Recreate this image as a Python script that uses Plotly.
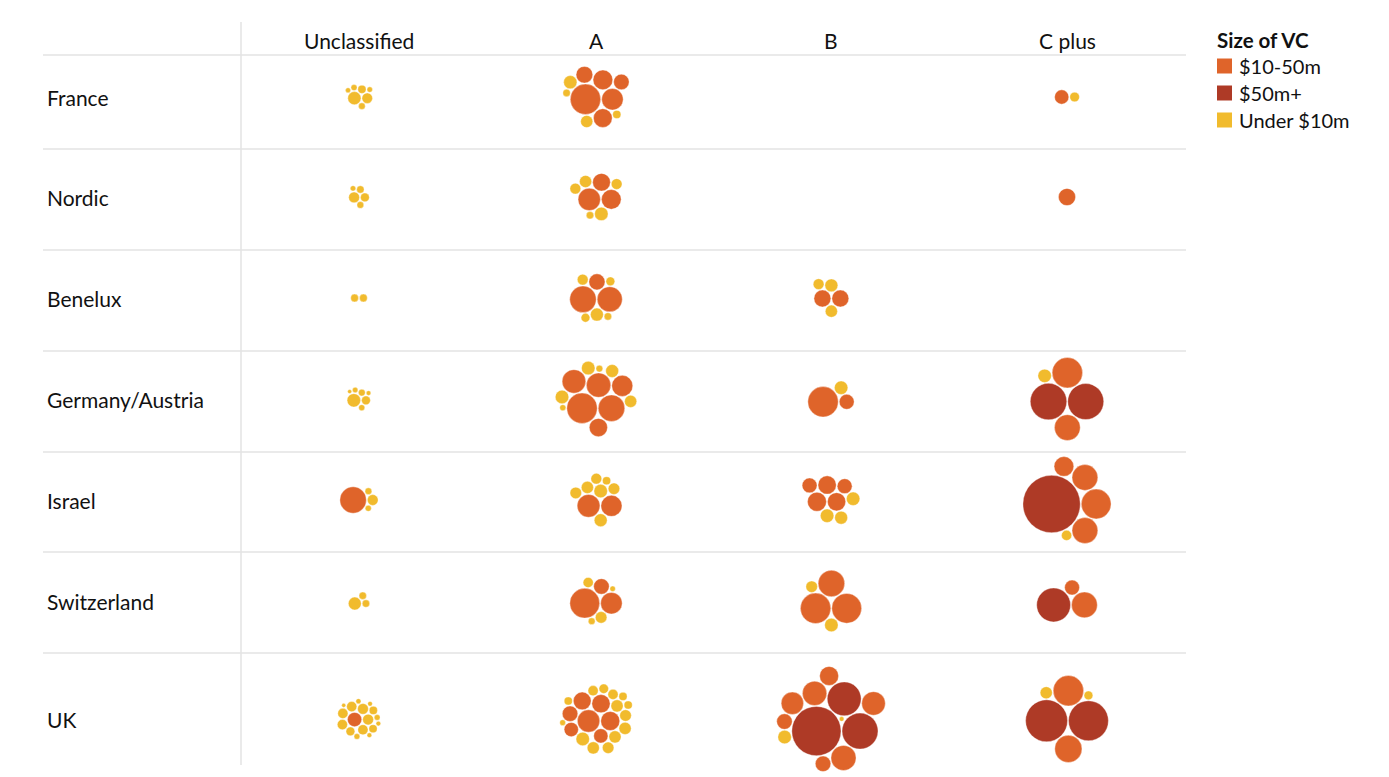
import math
import plotly.graph_objects as go

# ---------------- data ----------------
rows = ["France", "Nordic", "Benelux", "Germany/Austria", "Israel", "Switzerland", "UK"]
cols = ["Unclassified", "A", "B", "C plus"]
size_labels = ["$10-50m", "$50m+", "Under $10m"]

# deal sizes ($m), rows x cols
deals_10_50m = [
    [[], [50, 13, 15, 21, 19, 25], [], [11]],
    [[], [17, 21, 27], [], [16]],
    [[], [38, 34, 14], [15.5, 15.5], []],
    [[], [50, 30, 38, 18, 24, 32], [12, 50], [50, 36]],
    [[38], [28, 24], [12, 18, 19.5, 18, 12], [36, 36, 21, 48]],
    [[], [48, 13, 25], [50, 48, 38], [36, 12]],
    [[11], [17, 13, 19.5, 11, 11, 27, 18], [34, 30, 13, 19.5, 27, 13, 32], [40, 50]],
]
deals_50m_plus = [
    [[], [], [], []],
    [[], [], [], []],
    [[], [], [], []],
    [[], [], [], [70, 72]],
    [[], [], [], [178]],
    [[], [], [], [62]],
    [[], [], [70, 62, 131], [86, 95]],
]
deals_under_10m = [
    [[9.4, 6, 3.6, 2.4, 1.4, 1.6, 2], [9.5, 8, 3.6, 3], [], [5]],
    [[6.3, 4.2, 2.5, 1.6, 3], [8, 6.3, 9.8, 3, 6.3], [], []],
    [[3.3, 3.3], [4.2, 6.3, 9, 4.2, 3], [9, 8, 6.3], []],
    [[9.8, 4.2, 2.5, 1.2, 2, 0.9, 1.6], [8, 9.9, 9.9, 9, 2.5, 2], [9.8], [9.8]],
    [[2.5, 2, 6.3], [7.2, 9.8, 3.6, 6.3, 8, 7.2, 9], [9, 9.8, 9.9], [5.6]],
    [[9, 3, 3], [7.2, 5.6, 1.6, 2.5], [9.9, 7.2], []],
    [[5.6, 6.3, 4.2, 5.6, 1.8, 1.4, 3.6, 1.2, 3.6, 0.9, 5.6, 5.6, 1.2, 1.8, 6.3, 1.2],
     [8, 8, 1.8, 5.6, 3.6, 4.9, 8, 7.2, 5.6, 7.2, 9.8, 8, 3.6, 3.6],
     [9.9, 1.2], [8, 4.2]],
]

# ---------------- layout constants (pixels) ----------------
W, H = 1389, 777
COL_X = [359, 596, 831, 1067]
ROW_Y = [97, 197, 298, 399, 500, 601, 719]
ROW_LINES = [55, 149, 250, 351, 452, 552, 653]
HEADER_Y = 40
LABEL_X = 45
K = 2.15  # radius (px) = K * sqrt($m)
PAD = 1.0
COLORS = {"$10-50m": "#DF642A", "$50m+": "#AE3A26", "Under $10m": "#F1BB2D"}
FONT = "Lato, 'Noto Sans', sans-serif"


def pack(radii):
    n = len(radii)
    order = sorted(range(n), key=lambda i: -radii[i])
    pos = [None] * n
    placed = []
    for i in order:
        r = radii[i]
        if not placed:
            pos[i] = (0.0, 0.0)
            placed.append(i)
            continue
        tw = sum(radii[j] ** 2 for j in placed)
        cx = sum(pos[j][0] * radii[j] ** 2 for j in placed) / tw
        cy = sum(pos[j][1] * radii[j] ** 2 for j in placed) / tw
        cands = []
        for j in placed:
            xj, yj = pos[j]
            d = radii[j] + r + PAD
            for s in range(36):
                t = 2 * math.pi * s / 36
                cands.append((xj + d * math.cos(t), yj + d * math.sin(t)))
        for a in range(len(placed)):
            for b in range(a + 1, len(placed)):
                ja, jb = placed[a], placed[b]
                xa, ya = pos[ja]
                xb, yb = pos[jb]
                ra = radii[ja] + r + PAD
                rb = radii[jb] + r + PAD
                dx, dy = xb - xa, yb - ya
                d = math.hypot(dx, dy)
                if d == 0 or d > ra + rb or d < abs(ra - rb):
                    continue
                aa = (ra * ra - rb * rb + d * d) / (2 * d)
                h = math.sqrt(max(ra * ra - aa * aa, 0))
                mx, my = xa + aa * dx / d, ya + aa * dy / d
                cands.append((mx + h * dy / d, my - h * dx / d))
                cands.append((mx - h * dy / d, my + h * dx / d))
        best, bd = None, 1e18
        for (x, y) in cands:
            ok = True
            for j in placed:
                if math.hypot(x - pos[j][0], y - pos[j][1]) < radii[j] + r + PAD - 1e-6:
                    ok = False
                    break
            if ok:
                dd = math.hypot(x - cx, 1.12 * (y - cy))
                if dd < bd:
                    bd, best = dd, (x, y)
        pos[i] = best
        placed.append(i)
    if n:
        x0 = min(p[0] - radii[i] for i, p in enumerate(pos))
        x1 = max(p[0] + radii[i] for i, p in enumerate(pos))
        y0 = min(p[1] - radii[i] for i, p in enumerate(pos))
        y1 = max(p[1] + radii[i] for i, p in enumerate(pos))
        mx, my = (x0 + x1) / 2, (y0 + y1) / 2
        pos = [(p[0] - mx, p[1] - my) for p in pos]
    return pos


series = {"$10-50m": deals_10_50m, "$50m+": deals_50m_plus, "Under $10m": deals_under_10m}
pts = {k: {"x": [], "y": [], "s": [], "v": []} for k in size_labels}

for ri in range(len(rows)):
    for ci in range(len(cols)):
        items = []
        for lab in size_labels:
            for v in series[lab][ri][ci]:
                items.append((lab, v))
        radii = [K * math.sqrt(v) for _, v in items]
        p = pack(radii)
        for (lab, v), r, (x, y) in zip(items, radii, p):
            pts[lab]["x"].append(COL_X[ci] + x)
            pts[lab]["y"].append(ROW_Y[ri] + y)
            pts[lab]["s"].append(2 * r)
            pts[lab]["v"].append(f"{rows[ri]} · {cols[ci]}<br>${v}m")

fig = go.Figure()
for lab in size_labels:
    fig.add_trace(go.Scatter(
        x=pts[lab]["x"], y=pts[lab]["y"], mode="markers", name=lab,
        marker=dict(size=pts[lab]["s"], sizemode="diameter", color=COLORS[lab],
                    line=dict(width=0.6, color="rgba(255,255,255,0.6)"), opacity=1),
        text=pts[lab]["v"], hoverinfo="text", showlegend=False,
    ))

shapes = []
for y in ROW_LINES:
    shapes.append(dict(type="line", x0=43, x1=1186, y0=y, y1=y, xref="x", yref="y",
                       line=dict(color="#e3e3e3", width=1.5), layer="below"))
shapes.append(dict(type="line", x0=241, x1=241, y0=22, y1=765, xref="x", yref="y",
                   line=dict(color="#e3e3e3", width=1.5), layer="below"))

annotations = []
for c, x in zip(cols, COL_X):
    annotations.append(dict(x=x, y=HEADER_Y, text=c, showarrow=False, xref="x", yref="y",
                            xanchor="center", yanchor="middle",
                            font=dict(family=FONT, size=21, color="#111")))
for r, y in zip(rows, ROW_Y):
    annotations.append(dict(x=LABEL_X, y=y, text=r, showarrow=False, xref="x", yref="y",
                            xanchor="left", yanchor="middle",
                            font=dict(family=FONT, size=21, color="#111")))

# legend
annotations.append(dict(x=1215, y=40, text="<b>Size of VC</b>", showarrow=False, xref="x", yref="y",
                        xanchor="left", yanchor="middle",
                        font=dict(family=FONT, size=20.5, color="#111")))
for i, lab in enumerate(size_labels):
    yy = 66 + i * 27
    shapes.append(dict(type="rect", x0=1217, x1=1232, y0=yy - 7.5, y1=yy + 7.5, xref="x", yref="y",
                       fillcolor=COLORS[lab], line=dict(width=0)))
    annotations.append(dict(x=1237, y=yy, text=lab, showarrow=False, xref="x", yref="y",
                            xanchor="left", yanchor="middle",
                            font=dict(family=FONT, size=20, color="#111")))

fig.update_layout(
    width=W, height=H, margin=dict(l=0, r=0, t=0, b=0),
    paper_bgcolor="white", plot_bgcolor="white",
    xaxis=dict(range=[0, W], visible=False, fixedrange=True),
    yaxis=dict(range=[H, 0], visible=False, fixedrange=True),
    shapes=shapes, annotations=annotations, showlegend=False,
    hovermode="closest",
)
fig.write_html("out.html")
